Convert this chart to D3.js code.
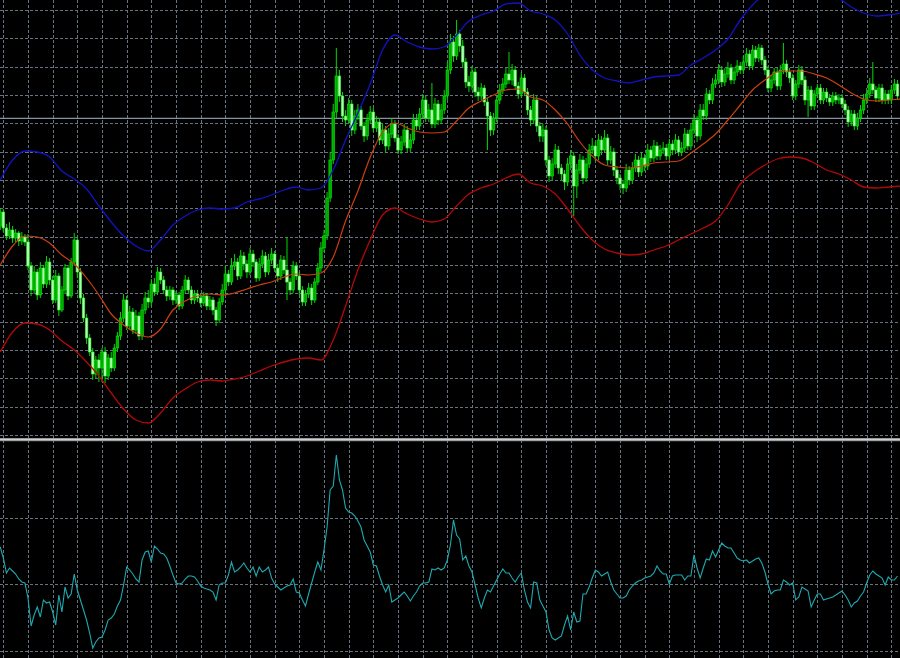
<!DOCTYPE html>
<html><head><meta charset="utf-8">
<script src="https://cdn.jsdelivr.net/npm/d3@7"></script>
<style>html,body{margin:0;padding:0;background:#000;overflow:hidden}</style>
</head><body><svg id="c" width="900" height="658"></svg>
<script>
// Prices are stored in pips above 1.3000
const BASE_PRICE = 1.3000;
const open = [424,438,422,414,420,412,417,409, 413,408,384,360,378,355,382,366, 388,370,350,374,340,360,382,354, 388,410,378,352,332,312,298,276, 290,282,298,274,292,282,302,314, 332,350,324,338,320,334,314,340, 352,348,366,358,378,370,360,354, 360,350,355,344,360,370,360,350, 356,352,347,354,344,350,340,330, 348,360,376,368,384,388,374,394, 386,378,396,388,372,386,394,378, 390,396,382,374,390,380,368,360, 384,374,360,348,356,362,350,368, 382,402,414,452,490,538,574,554, 534,530,546,520,534,540,524,514, 530,538,522,528,510,520,504,516, 526,512,500,508,520,502,510,530, 524,536,550,532,540,526,546,530, 540,554,580,608,594,616,604,588, 568,564,578,558,554,562,548,534, 520,532,550,560,566,576,570,580, 564,556,572,558,540,530,550,524, 514,520,490,474,486,500,482,476, 468,486,494,464,480,490,472,486, 500,504,494,510,500,512,490,498, 480,472,466,462,480,470,482,490, 478,492,484,500,492,504,494,500, 502,494,506,500,510,498,502,516, 504,520,530,514,540,534,556,550, 566,570,580,568,576,582,570,578, 584,580,588,596,584,600,592,602, 590,580,562,570,578,564,580,586, 578,572,554,566,580,570,550,560, 544,556,562,550,558,552,548,554, 550,552,546,540,528,536,524,532, 540,550,556,566,560,552,562,550, 556,550,560,566];
const close = [438,422,414,420,412,417,409,413, 408,384,360,378,355,382,366,388, 370,350,374,340,360,382,354,388, 410,378,352,332,312,298,276,290, 282,298,274,292,282,302,314,332, 350,324,338,320,334,314,340,352, 348,366,358,378,370,360,354,360, 350,355,344,360,370,360,350,356, 352,347,354,344,350,340,330,348, 360,376,368,384,388,374,394,386, 378,396,388,372,386,394,378,390, 396,382,374,390,380,368,360,384, 374,360,348,356,362,350,368,382, 402,414,452,490,538,574,554,534, 530,546,520,534,540,524,514,530, 538,522,528,510,520,504,516,526, 512,500,508,520,502,510,530,524, 536,550,532,540,526,546,530,540, 554,580,608,594,616,604,588,568, 564,578,558,554,562,548,534,520, 532,550,560,566,576,570,580,564, 556,572,558,540,530,550,524,514, 520,490,474,486,500,482,476,468, 486,494,464,480,490,472,486,500, 504,494,510,500,512,490,498,480, 472,466,462,480,470,482,490,478, 492,484,500,492,504,494,500,502, 494,506,500,510,498,502,516,504, 520,530,514,540,534,556,550,566, 570,580,568,576,582,570,578,584, 580,588,596,584,600,592,602,590, 580,562,570,578,564,580,586,578, 572,554,566,580,570,550,560,544, 556,562,550,558,552,548,554,550, 552,546,540,528,536,524,532,540, 550,556,566,560,552,562,550,556, 550,560,566,554];
const high = [442,441,426,428,424,421,419,418, 416,416,388,384,381,388,385,394, 392,374,380,377,364,386,385,392, 417,412,382,356,336,316,302,294, 296,302,303,296,298,306,318,338, 356,354,344,342,340,338,346,358, 360,371,372,383,382,374,364,364, 363,359,358,364,375,373,364,360, 360,356,358,357,354,353,343,352, 366,384,380,392,396,392,400,398, 390,402,400,391,392,400,398,396, 402,399,386,395,394,413,372,389, 388,378,364,360,367,366,372,387, 408,420,458,498,546,602,580,558, 540,552,550,540,546,544,528,536, 544,542,534,532,526,524,522,532, 530,516,514,526,524,516,536,536, 542,556,554,546,567,552,550,546, 560,588,616,614,630,620,610,592, 574,584,582,563,567,565,552,538, 537,555,566,572,582,598,586,584, 568,578,576,562,544,556,554,528, 526,524,494,492,506,504,486,480, 492,500,498,486,496,494,492,506, 512,508,516,514,520,516,504,502, 484,476,470,486,484,488,496,494, 498,496,506,504,510,508,505,508, 506,511,510,516,514,508,522,520, 526,536,534,546,546,562,560,572, 576,586,584,582,588,586,583,590, 588,594,602,600,605,604,606,605, 594,584,575,582,582,585,607,590, 582,576,570,585,584,574,564,564, 560,566,566,562,562,556,558,558, 556,556,550,544,540,540,537,545, 556,562,572,588,564,566,566,560, 560,565,571,570];
const low = [420,418,410,411,407,408,404,405, 404,380,354,356,350,352,362,362, 365,346,347,334,338,356,350,352, 384,372,346,328,306,294,270,272, 268,268,267,270,278,279,298,310, 328,320,320,316,316,310,310,336, 342,344,354,355,366,356,349,350, 345,346,340,341,356,356,346,346, 348,343,344,340,340,335,324,327, 345,356,364,365,380,370,371,380, 372,375,383,368,369,382,373,375, 386,378,368,370,376,350,355,357, 370,355,344,344,352,345,347,365, 378,398,410,448,486,532,548,528, 524,526,514,516,530,520,508,510, 526,518,518,505,506,497,500,512, 508,496,496,504,498,498,506,520, 520,532,528,528,522,522,525,526, 536,550,576,588,590,598,582,562, 558,560,553,549,550,544,500,514, 515,528,546,556,562,566,565,560, 551,552,554,535,524,526,518,508, 508,484,468,470,482,476,470,460, 464,480,434,452,476,466,468,482, 496,489,490,495,497,485,486,474, 466,460,456,458,465,466,478,473, 474,479,480,488,488,490,490,496, 490,490,495,496,494,494,498,500, 500,516,508,510,530,530,546,546, 562,566,563,564,572,566,566,574, 576,576,584,580,580,588,588,585, 575,558,558,566,560,560,576,573, 567,550,550,562,565,545,533,540, 540,552,546,546,548,544,544,546, 546,542,535,523,524,520,520,528, 536,546,552,556,548,548,546,546, 546,546,556,550];
// Bollinger bands, read every 4 bars
const BAND_STEP = 4;
const bandUpper = [470,490,499,498,493,479,471,461,444,428, 414,404,399,410,425,434,440,442,441,442, 448,451,455,460,463,460,462,480,510,537, 566,600,615,608,603,601,603,615,629,635, 639,646,647,639,636,630,616,595,580,572, 569,567,570,573,574,575,585,592,600,611, 630,645,656,664,666,667,665,662,652,643, 637,634,635,637];
const bandMiddle = [385,404,414,413,407,395,386,372,355,336, 325,317,313,321,340,349,354,356,355,357, 361,365,368,373,376,375,377,393,429,459, 493,518,527,522,518,517,518,529,542,549, 555,560,561,553,550,540,526,508,494,485, 483,482,484,487,488,489,497,506,516,530, 545,560,570,578,579,579,576,572,565,557, 551,549,550,551];
const bandLower = [298,318,327,326,320,309,300,288,274,257, 241,230,227,237,252,261,268,270,269,271, 274,279,284,288,291,292,290,310,344,380, 410,435,442,436,431,428,431,444,456,462, 466,472,476,467,464,456,441,424,410,401, 397,395,396,400,404,410,416,422,429,445, 466,477,485,491,493,492,487,480,476,470, 463,462,463,464];
const bidLevel = 531.7;
// Oscillator (lower window), one value per bar
const osc = [37,26,11,16,13,10,5,2,1,-14, -42,-31,-23,-33,-16,-19,-18,-28,-41,-11, -28,-3,-14,-10,10,-6,-16,-26,-36,-49, -64,-58,-54,-53,-46,-36,-34,-30,-22,-16, -1,17,14,10,5,2,24,32,33,22, 38,35,31,30,26,18,9,1,0,1, 5,8,8,7,3,-2,-4,-5,-6,-8, -16,-1,1,1,9,22,12,14,17,21, 16,12,17,8,17,12,14,17,6,0, -3,-6,-4,-2,-1,5,-8,-9,-16,-22, -10,1,12,22,14,34,57,94,98,129, 104,94,76,72,71,68,63,57,44,38, 32,19,18,8,-1,-8,-1,-18,-16,-14, -11,-8,-12,-17,-12,-8,-2,1,1,2, 15,14,16,14,16,24,39,64,49,45, 24,28,18,12,-1,-14,-24,-14,-6,-8, -2,4,10,15,11,11,6,2,7,11, -6,-18,-24,2,1,-16,-22,-28,-46,-54, -56,-54,-52,-41,-32,-46,-28,-38,-37,-10, -10,-3,6,14,12,8,10,12,2,-6, -10,-14,-14,-12,-6,-2,1,3,4,6, 7,8,11,18,13,10,10,0,8,9, 9,9,4,8,8,29,16,6,16,25, 24,33,27,34,41,38,36,36,31,26, 24,23,24,21,23,25,26,21,12,0, -10,-7,-6,-6,4,2,-1,1,-16,-13, -3,-5,-7,-23,-16,-10,-10,-16,-15,-14, -13,-11,-9,-7,-11,-16,-23,-19,-17,-12, -8,1,9,13,10,8,6,-1,7,4, 4,8];
const oscLevels = [66, 0, -67];
// grid
const GRID_TOP_LEVEL = 640, GRID_STEP = 28.333, GRID_COUNT = 16;
const GRID_BAR_START = 1, GRID_BAR_EVERY = 8;

const W = 900, H = 658;
const MAIN_BOTTOM = 437, SUB_TOP = 442;
const svg = d3.select('#c');
svg.append('rect').attr('width', W).attr('height', H).attr('fill', '#000');
const defs = svg.append('defs');
defs.append('clipPath').attr('id', 'cm').append('rect').attr('x', 0).attr('y', 0).attr('width', W).attr('height', MAIN_BOTTOM);
defs.append('clipPath').attr('id', 'cs').append('rect').attr('x', 0).attr('y', SUB_TOP).attr('width', W).attr('height', H - SUB_TOP);

const N = close.length;
const x = d3.scaleLinear().domain([0, 291]).range([0.25, 0.25 + 291 * 3.0833]);
const yMain = d3.scaleLinear().domain([0, 650]).range([650, 0]);
const ySub = d3.scaleLinear().domain([-74, 142]).range([658, 442]);

const gridColor = '#687382';
// vertical grid
const gv = svg.append('g');
d3.range(GRID_BAR_START, N, GRID_BAR_EVERY).forEach(i => {
  const xx = Math.round(x(i)) + 0.5;
  gv.append('line').attr('x1', xx).attr('x2', xx).attr('y1', 0).attr('y2', H)
    .attr('stroke', gridColor).attr('stroke-width', 1).attr('stroke-dasharray', '3,2');
});
// horizontal grid main
const gm = svg.append('g').attr('clip-path', 'url(#cm)');
d3.range(GRID_COUNT).map(k => GRID_TOP_LEVEL - k * GRID_STEP).forEach(v => {
  const yy = Math.round(yMain(v)) + 0.5;
  gm.append('line').attr('x1', 0).attr('x2', W).attr('y1', yy).attr('y2', yy)
    .attr('stroke', gridColor).attr('stroke-width', 1).attr('stroke-dasharray', '3,2');
});
const gs = svg.append('g').attr('clip-path', 'url(#cs)');
oscLevels.forEach(v => {
  const yy = Math.round(ySub(v)) + 0.5;
  gs.append('line').attr('x1', 0).attr('x2', W).attr('y1', yy).attr('y2', yy)
    .attr('stroke', gridColor).attr('stroke-width', 1).attr('stroke-dasharray', '3,2');
});

// main panel content
const main = svg.append('g').attr('clip-path', 'url(#cm)');
main.append('line').attr('x1', 0).attr('x2', W)
  .attr('y1', yMain(bidLevel)).attr('y2', yMain(bidLevel))
  .attr('stroke', '#8592a4').attr('stroke-width', 1.3);

const bars = d3.range(N).map(i => ({i, o: open[i], h: high[i], l: low[i], c: close[i]}));
main.append('g').selectAll('line').data(bars).join('line')
  .attr('x1', d => x(d.i)).attr('x2', d => x(d.i))
  .attr('y1', d => yMain(d.h)).attr('y2', d => yMain(d.l))
  .attr('stroke', '#00d800').attr('stroke-width', 1);
main.append('g').selectAll('rect').data(bars).join('rect')
  .attr('x', d => x(d.i) - 1.3).attr('width', 2.6)
  .attr('y', d => yMain(Math.max(d.o, d.c)))
  .attr('height', d => Math.max(1, Math.abs(yMain(d.o) - yMain(d.c))))
  .attr('fill', d => d.c > d.o ? '#00a800' : '#b4ffb4')
  .attr('stroke', d => d.c > d.o ? '#00f000' : '#28f028')
  .attr('stroke-width', 0.6);

const bandLine = d3.line().x((d, k) => x(k * BAND_STEP)).y(d => yMain(d)).curve(d3.curveMonotoneX);
main.append('path').attr('d', bandLine(bandUpper)).attr('fill', 'none').attr('stroke', '#1212c4').attr('stroke-width', 1.3);
main.append('path').attr('d', bandLine(bandMiddle)).attr('fill', 'none').attr('stroke', '#cc4010').attr('stroke-width', 1.2);
main.append('path').attr('d', bandLine(bandLower)).attr('fill', 'none').attr('stroke', '#b40808').attr('stroke-width', 1.3);

// separator
svg.append('rect').attr('x', 0).attr('y', 438).attr('width', W).attr('height', 3.2).attr('fill', '#9a9a9a');
svg.append('line').attr('x1', 0).attr('x2', W).attr('y1', 439.6).attr('y2', 439.6).attr('stroke', '#d4d4d4').attr('stroke-width', 1);

// oscillator
const sub = svg.append('g').attr('clip-path', 'url(#cs)');
const oscLine = d3.line().x((d, i) => x(i)).y(d => ySub(d));
sub.append('path').attr('d', oscLine(osc)).attr('fill', 'none').attr('stroke', '#1fa9b1').attr('stroke-width', 1.1);
</script>
</body></html>
